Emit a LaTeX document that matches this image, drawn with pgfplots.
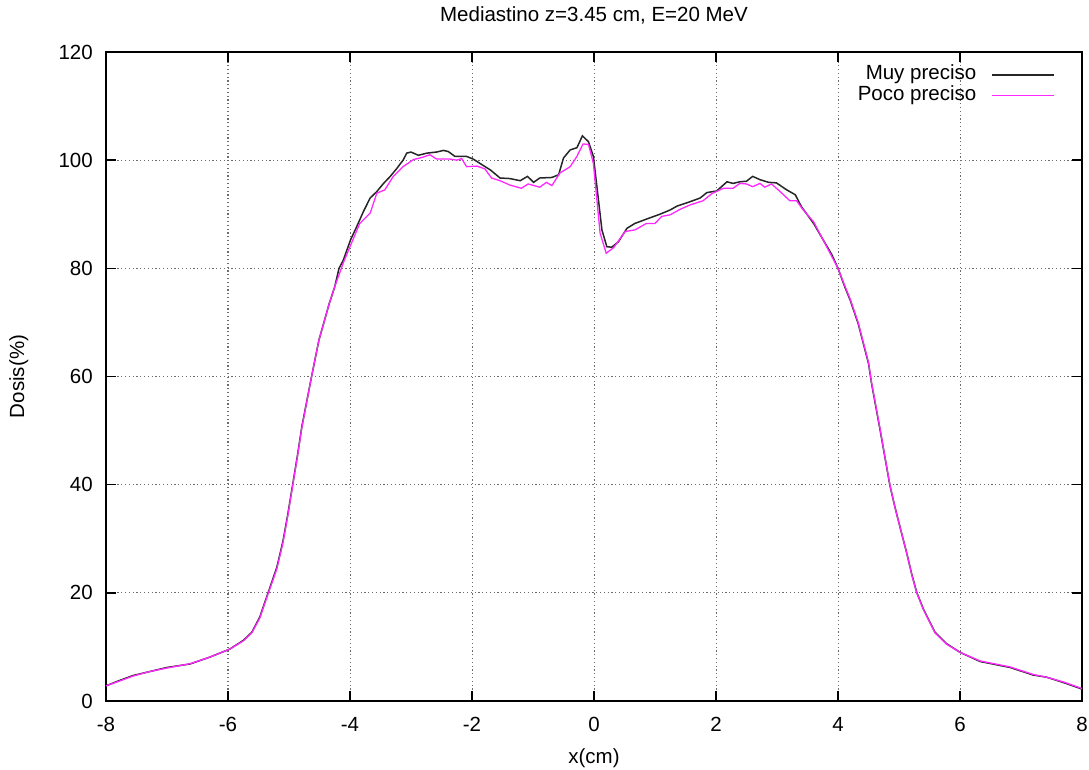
\documentclass[border=0pt]{standalone}
\usepackage{fontspec}
\setmainfont{Liberation Sans}
\usepackage{pgfplots}
\pgfplotsset{compat=1.18}
\definecolor{mypink}{RGB}{255,40,255}
\begin{document}
\fontsize{20.5}{24}\selectfont
\begin{tikzpicture}
\begin{axis}[
  name=ax,
  scale only axis,
  width=976pt, height=649pt,
  xmin=-8, xmax=8, ymin=0, ymax=120,
  xtick={-8,-6,...,8}, ytick={0,20,...,120},
  /pgf/number format/assume math mode=true,
  tick align=inside,
  major tick length=10pt,
  every tick/.style={black, line width=1.4pt},
  axis line style={line width=1.6pt},
  grid=major,
  major grid style={dash pattern=on 1.2pt off 2.6pt, line width=1pt, gray!85!black},
  xticklabel style={anchor=base, yshift=-31pt, inner sep=0pt},
  yticklabel style={anchor=east, inner sep=0pt, xshift=-13pt},
  title={Mediastino z=3.45 cm, E=20 MeV},
  title style={at={(axis description cs:0.5,1)}, anchor=base, yshift=24pt, inner sep=0pt},
  xlabel={x(cm)},
  xlabel style={at={(axis description cs:0.5,0)}, anchor=base, yshift=-63pt, inner sep=0pt},
  ylabel={Dosis(\%)},
  ylabel style={at={(axis description cs:-0.084,0.5)}, anchor=base, inner sep=0pt},
  legend plot pos=right,
  legend cell align=right,
  legend image code/.code={\draw[#1] (0pt,0pt) -- (62pt,0pt);},
  legend style={draw=none, fill=none, inner sep=0pt, column sep=15pt, row sep=0pt,
    at={(axis description cs:0.9723,0.981)}, anchor=north east,
    nodes={inner sep=0pt, text height=15pt, text depth=5.7pt}},
  clip=false,
]
\addplot[black!85, line width=1.5pt] coordinates {
(-8.00,2.8) (-7.80,3.7) (-7.56,4.7) (-7.30,5.4) (-7.00,6.2) (-6.62,6.85) (-6.30,8.1) (-5.97,9.6)
(-5.75,11.2) (-5.61,12.7) (-5.48,15.5) (-5.34,20.1) (-5.20,24.7) (-5.10,29.5) (-5.02,34.5)
(-4.94,40.0) (-4.86,45.5) (-4.79,50.7) (-4.63,60.0)
(-4.51,66.7) (-4.34,73.5) (-4.25,76.6) (-4.18,80.0) (-4.11,81.5) (-3.99,85.3) (-3.89,87.7)
(-3.78,90.5) (-3.67,93.0) (-3.56,94.2) (-3.45,95.7) (-3.34,97.0) (-3.23,98.5) (-3.13,100.0)
(-3.07,101.3) (-3.00,101.5) (-2.88,100.9) (-2.74,101.3) (-2.58,101.5) (-2.47,101.8) (-2.39,101.6)
(-2.28,100.7) (-2.09,100.7) (-1.98,100.2) (-1.87,99.4) (-1.70,98.2) (-1.54,96.7) (-1.38,96.6)
(-1.21,96.2) (-1.09,97.0) (-0.99,95.9) (-0.89,96.7) (-0.69,96.8) (-0.58,97.3) (-0.50,100.4)
(-0.39,101.9) (-0.28,102.3) (-0.19,104.5) (-0.09,103.4) (-0.01,100.7) (0.13,87.1) (0.21,84.0)
(0.29,83.9) (0.40,84.9) (0.54,87.4) (0.67,88.3) (0.86,89.1) (1.08,90.0) (1.25,90.8) (1.36,91.5)
(1.57,92.3) (1.74,93.0) (1.85,94.0) (2.01,94.3) (2.18,96.0) (2.28,95.7) (2.39,96.0) (2.50,96.1)
(2.60,97.0) (2.72,96.4) (2.86,95.9) (2.99,95.8) (3.16,94.5) (3.30,93.6) (3.40,91.4) (3.60,88.3)
(3.76,85.2) (3.90,82.5) (4.00,80.0) (4.11,76.6) (4.20,74.1) (4.33,69.8) (4.50,62.4) (4.55,58.7)
(4.69,50.1) (4.77,45.0) (4.85,39.9) (4.93,36.0) (5.02,32.0) (5.13,27.2) (5.21,23.4) (5.29,20.1)
(5.40,17.0) (5.59,12.7) (5.78,10.6)
(6.00,9.0) (6.33,7.3) (6.82,6.2) (7.20,4.8) (7.42,4.4) (7.70,3.4) (8.00,2.2)
};
\addlegendentry{Muy preciso}
\addplot[mypink, line width=1.3pt] coordinates {
(-8.00,2.8) (-7.80,3.6) (-7.56,4.6) (-7.30,5.4) (-7.00,6.1) (-6.62,6.9) (-6.30,8.1) (-5.97,9.6)
(-5.75,11.1) (-5.61,12.6) (-5.48,15.3) (-5.34,19.9) (-5.20,24.4) (-5.10,29.2) (-5.02,34.2)
(-4.94,39.8) (-4.86,45.3) (-4.79,50.5) (-4.63,60.0)
(-4.51,66.7) (-4.34,73.5) (-4.25,76.6) (-4.11,81.0) (-4.00,84.0) (-3.84,88.3) (-3.67,90.2)
(-3.56,93.9) (-3.43,94.5) (-3.29,97.0) (-3.13,98.8) (-2.96,100.1) (-2.82,100.5) (-2.69,101.0)
(-2.58,100.2) (-2.36,100.2) (-2.25,100.0) (-2.17,100.3) (-2.09,98.8) (-1.92,98.9) (-1.79,98.4)
(-1.68,96.7) (-1.54,96.2) (-1.38,95.4) (-1.19,94.8) (-1.08,95.6) (-0.89,95.0) (-0.78,95.9)
(-0.69,95.3) (-0.56,97.6) (-0.39,98.8) (-0.28,100.7) (-0.18,103.0) (-0.09,102.9) (-0.01,99.4)
(0.10,86.5) (0.20,82.8) (0.32,83.8) (0.51,86.8) (0.67,87.1) (0.86,88.3) (1.00,88.3) (1.11,89.6)
(1.25,89.9) (1.41,90.9) (1.57,91.7) (1.79,92.5) (1.93,93.8) (2.12,94.8) (2.28,94.8) (2.39,95.7)
(2.50,95.6) (2.60,95.1) (2.72,95.7) (2.80,95.0) (2.91,95.6) (3.05,94.2) (3.21,92.5) (3.32,92.5)
(3.43,90.8) (3.60,88.6) (3.87,82.8) (4.00,80.0) (4.11,76.8) (4.20,74.3) (4.33,70.0) (4.50,62.6)
(4.55,58.9) (4.69,50.3) (4.77,45.1) (4.85,40.0) (4.93,36.0) (5.02,32.0) (5.13,27.2) (5.21,23.3)
(5.29,20.0) (5.40,16.9) (5.59,12.6)
(5.78,10.5) (6.00,9.0) (6.33,7.4) (6.82,6.3) (7.20,4.9) (7.42,4.4) (7.70,3.5) (8.00,2.3)
};
\addlegendentry{Poco preciso}
\end{axis}
\path (ax.south west) ++(-106pt,-69pt) rectangle ++(1089pt,770pt);
\end{tikzpicture}
\end{document}
